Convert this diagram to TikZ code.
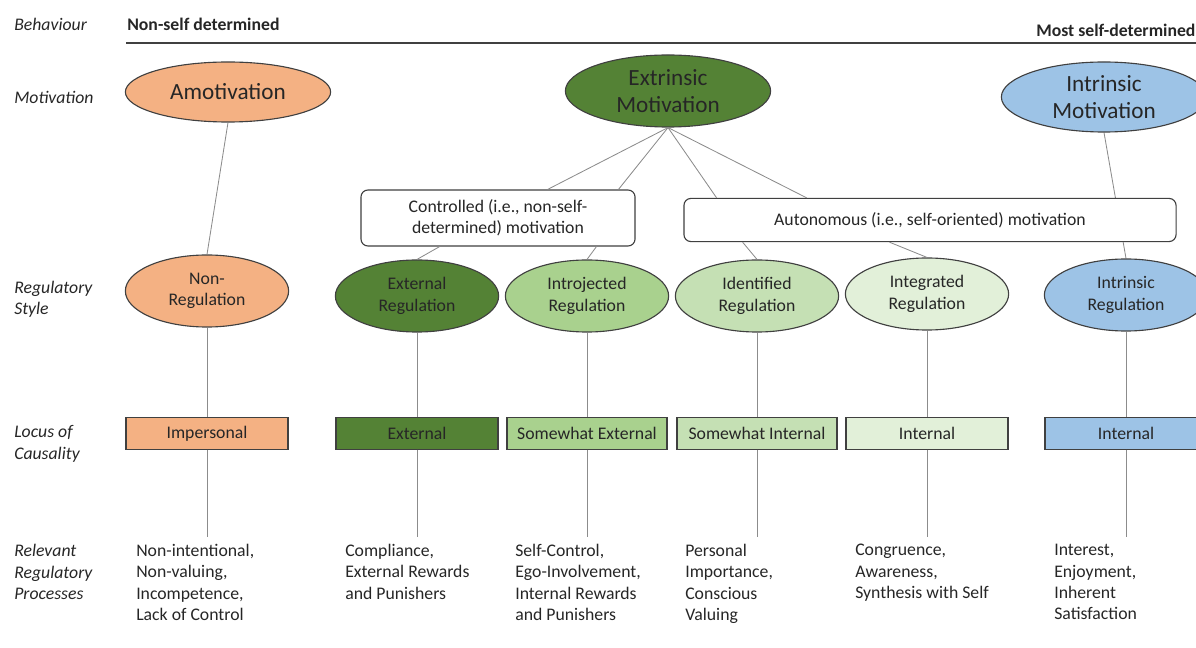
\documentclass[tikz,border=0pt]{standalone}
\usepackage{fontspec}
\setmainfont{Carlito}
\usetikzlibrary{shapes.geometric, positioning, backgrounds}
\definecolor{amoorange}{HTML}{F4B183}
\definecolor{extgreen}{HTML}{548235}
\definecolor{introgreen}{HTML}{A9D18E}
\definecolor{identgreen}{HTML}{C5E0B4}
\definecolor{integgreen}{HTML}{E2F0D9}
\definecolor{intrblue}{HTML}{9DC3E6}
\definecolor{edgegray}{HTML}{404040}
\definecolor{linkgray}{HTML}{8C8C8C}
\definecolor{textdark}{HTML}{262626}

\begin{document}
\begin{tikzpicture}[x=0.025cm, y=-0.025cm, text=textdark,
  motiv/.style={ellipse, draw=edgegray, line width=0.8pt, minimum width=5.13cm,
                minimum height=1.8cm, align=center, inner sep=1pt,
                font=\fontsize{16.5}{19.2}\selectfont},
  regul/.style={ellipse, draw=edgegray, line width=0.8pt, minimum width=4.08cm,
                minimum height=1.8cm, align=center, inner sep=1pt,
                font=\fontsize{12.6}{15.2}\selectfont},
  locus/.style={rectangle, draw=edgegray, line width=0.8pt, minimum width=4.05cm,
                minimum height=0.78cm, inner sep=1pt, font=\fontsize{12.6}{15.2}\selectfont},
  group/.style={rectangle, rounded corners=5pt, draw=edgegray, fill=white,
                line width=0.8pt, align=center, inner sep=1pt,
                font=\fontsize{12.6}{15.2}\selectfont},
  rowlab/.style={anchor=west, align=left, inner sep=0pt,
                 font=\itshape\fontsize{12.6}{15.2}\selectfont},
  proc/.style={anchor=north west, align=left, inner sep=0pt,
               font=\fontsize{12.6}{15.2}\selectfont},
  link/.style={linkgray, line width=0.6pt},
]
  \useasboundingbox (0,0) rectangle (1196,648);
  \clip (0,0) rectangle (1196,648);

  % row labels
  \node[rowlab] (lbeh)  at (14,24)  {Behaviour};
  \node[rowlab] (lmot)  at (14,97)  {Motivation};
  \node[rowlab] (lreg)  at (14,299) {Regulatory\\Style};
  \node[rowlab] (lloc)  at (14,444) {Locus of\\Causality};
  \node[rowlab] (lproc) at (14,572) {Relevant\\Regulatory\\Processes};

  % behaviour scale
  \node[anchor=west, inner sep=0pt, font=\bfseries\fontsize{12.6}{15}\selectfont] (nsd) at (127,24) {Non-self determined};
  \node[anchor=west, inner sep=0pt, font=\bfseries\fontsize{12.6}{15}\selectfont] (msd) at (1036,30) {Most self-determined};
  \coordinate (bstart) at (126,43);
  \coordinate (bend)   at (1196,43);
  \draw[edgegray, line width=1pt] (bstart) -- (bend);

  % motivation
  \node[motiv, fill=amoorange, minimum height=1.5cm] (amot) at (228,92) {Amotivation};
  \node[motiv, fill=extgreen]  (extr) at (668,91) {Extrinsic\\Motivation};
  \node[motiv, fill=intrblue, minimum height=1.75cm] (intr) at (1104,97) {Intrinsic\\Motivation};

  \node[group, minimum width=6.85cm, minimum height=1.4cm] (ctrl) at (498,218)
       {Controlled (i.e., non-self-\\determined) motivation};
  \node[group, minimum width=12.3cm, minimum height=1.08cm] (auto) at (930,220)
       {Autonomous (i.e., self-oriented) motivation};

  % regulatory style
  \node[regul, fill=amoorange] (nreg) at (207,291) {Non-\\Regulation};
  \node[regul, fill=extgreen]  (ereg) at (417,296) {External\\Regulation};
  \node[regul, fill=introgreen](jreg) at (587,296) {Introjected\\Regulation};
  \node[regul, fill=identgreen](dreg) at (757,296) {Identified\\Regulation};
  \node[regul, fill=integgreen](greg) at (927,294) {Integrated\\Regulation};
  \node[regul, fill=intrblue]  (ireg) at (1126,295) {Intrinsic\\Regulation};

  % locus of causality
  \node[locus, fill=amoorange]  (lc1) at (207,433.5) {Impersonal};
  \node[locus, fill=extgreen]   (lc2) at (417,433.5) {External};
  \node[locus, fill=introgreen, minimum width=4cm] (lc3) at (587,433.5) {Somewhat External};
  \node[locus, fill=identgreen, minimum width=4cm] (lc4) at (757,433.5) {Somewhat Internal};
  \node[locus, fill=integgreen] (lc5) at (927,433.5) {Internal};
  \node[locus, fill=intrblue]   (lc6) at (1126,433.5) {Internal};

  % regulatory processes
  \node[proc] (pr1) at (136,544) {Non-intentional,\\Non-valuing,\\Incompetence,\\Lack of Control};
  \node[proc] (pr2) at (345,544) {Compliance,\\External Rewards\\and Punishers};
  \node[proc] (pr3) at (515,544) {Self-Control,\\Ego-Involvement,\\Internal Rewards\\and Punishers};
  \node[proc] (pr4) at (685,544) {Personal\\Importance,\\Conscious\\Valuing};
  \node[proc] (pr5) at (855,544) {Congruence,\\Awareness,\\Synthesis with Self};
  \node[proc] (pr6) at (1054,544) {Interest,\\Enjoyment,\\Inherent\\Satisfaction};

  % connectors
  \draw[link] (amot.south) -- (nreg.north);
  \draw[link] (extr.south) -- ([xshift=4.68cm]ctrl.north west);
  \draw[link] (extr.south) -- ([xshift=6.45cm]ctrl.north west);
  \draw[link] (extr.south) -- ([xshift=0.83cm]auto.north west);
  \draw[link] (extr.south) -- ([xshift=3.08cm]auto.north west);
  \draw[link] ([xshift=1.98cm]ctrl.south west) -- (ereg.north);
  \draw[link] ([xshift=5.9cm]ctrl.south west) -- (jreg.north);
  \draw[link] ([xshift=1.48cm]auto.south west) -- (dreg.north);
  \draw[link] ([xshift=5.15cm]auto.south west) -- (greg.north);
  \begin{scope}[on background layer]
    \draw[link] (intr.south) -- (ireg.north);
  \end{scope}

  \foreach \r/\l/\x in {nreg/lc1/207, ereg/lc2/417, jreg/lc3/587,
                        dreg/lc4/757, greg/lc5/927, ireg/lc6/1126} {
    \coordinate (end-\l) at (\x,537);
    \draw[link] (\r.south) -- (\l.north);
    \draw[link] (\l.south) -- (end-\l);
  }
\end{tikzpicture}
\end{document}
